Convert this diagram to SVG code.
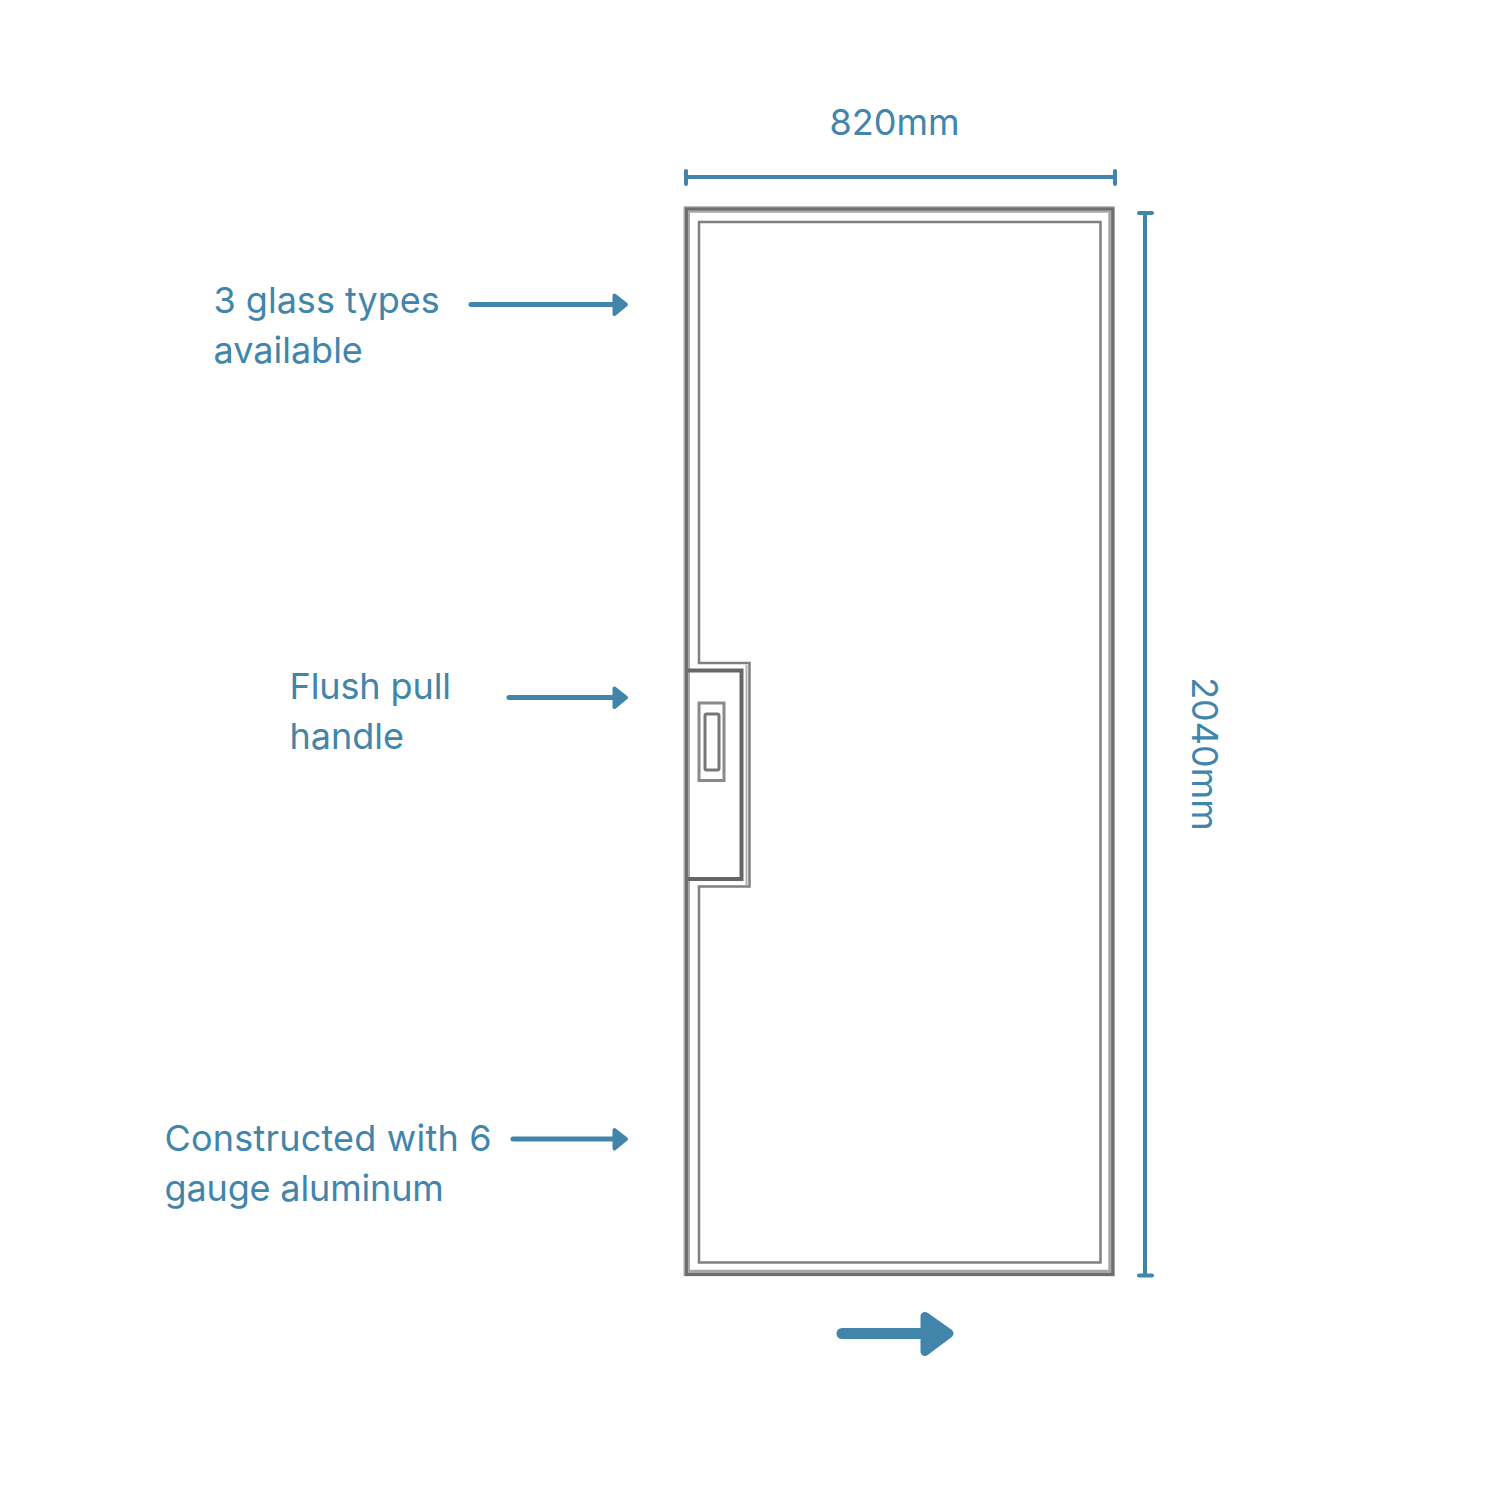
<svg xmlns="http://www.w3.org/2000/svg" width="1485" height="1485" viewBox="0 0 1485 1485">
<defs><filter id="soft" x="-5%" y="-5%" width="110%" height="110%"><feGaussianBlur stdDeviation="0.7"/></filter></defs>
<style>
.t{font-family:"Inter","Liberation Sans",sans-serif;font-size:36px;fill:#4285ab}
.d{fill:none;stroke:#4285ab;stroke-linecap:round;stroke-width:4}
.a{fill:none;stroke:#4285ab;stroke-linecap:round;stroke-width:5}
.h{fill:#4285ab;stroke:#4285ab;stroke-width:4;stroke-linejoin:round}
.o{fill:none;stroke-linejoin:miter}
</style>
<rect width="1485" height="1485" fill="#fff"/>
<g id="door" filter="url(#soft)">
<path class="o" stroke="#a8a8a8" stroke-width="6.500" d="M686.800 209.500H1111.500V1273H686.800Z"/>
<path class="o" stroke="#6e6e6e" stroke-width="3" d="M686.500 209H1112.800V1274.500H686.500Z"/>
<path class="o" stroke="#808080" stroke-width="2.500" d="M699 222H1100.500V1262.500H699V886.500H749.500V663H699Z"/>
<path class="o" stroke="#b0b0b0" stroke-width="2" d="M746.500 665V885"/>
<path class="o" stroke="#666" stroke-width="4" d="M688 670.500H741.500V879H688"/>
<rect class="o" stroke="#8a8a8a" stroke-width="3" x="699" y="703" width="25" height="77.500"/>
<rect class="o" stroke="#777" stroke-width="3" x="705" y="714" width="14" height="56" rx="1.500"/>
</g>
<g id="connectors">
<path class="d" d="M686 177H1115M686 171V184M1115 171V184"/>
<path class="d" d="M1145 213V1275.500M1139 213H1152M1139 1275.500H1152"/>
<path class="a" d="M471 304.500H616"/>
<path class="h" d="M614.500 295.500L626 304.500L614.500 314Z"/>
<path class="a" d="M509 697.500H616"/>
<path class="h" d="M614.500 688.500L626 697.500L614.500 707Z"/>
<path class="a" d="M513 1139H616"/>
<path class="h" d="M614.500 1130L626 1139L614.500 1148.500Z"/>
<path class="d" style="stroke-width:11" d="M842 1333.500H925"/>
<path class="h" d="M925 1316.500L949 1333.500L925 1351.500Z" style="stroke-width:9"/>
</g>
<g id="labels">
<text class="t" x="894.500" y="135" text-anchor="middle">820mm</text>
<text class="t" transform="translate(1191.500 754) rotate(90)" text-anchor="middle">2040mm</text>
<text class="t" x="213.500" y="313">3 glass types</text>
<text class="t" x="213.500" y="363">available</text>
<text class="t" x="289.500" y="699" letter-spacing="-0.100">Flush pull</text>
<text class="t" x="289.500" y="749">handle</text>
<text class="t" x="164.500" y="1151" letter-spacing="0.200">Constructed with 6</text>
<text class="t" x="164.500" y="1201" letter-spacing="-0.150">gauge aluminum</text>
</g>
</svg>
